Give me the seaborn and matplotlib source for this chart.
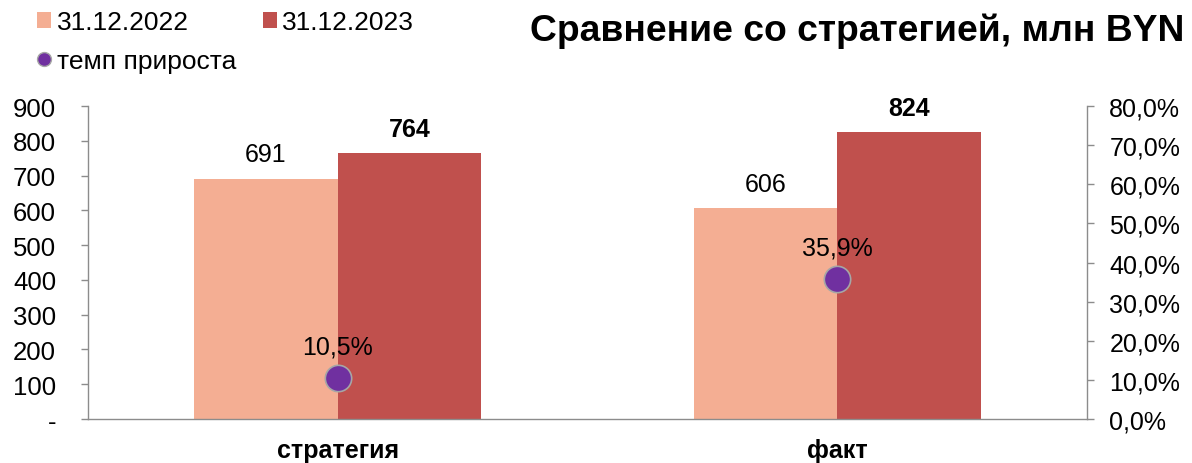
import numpy as np
import pandas as pd
import matplotlib
matplotlib.use('Agg')
import matplotlib.pyplot as plt
from matplotlib.ticker import FuncFormatter, FixedLocator
from matplotlib.lines import Line2D
from matplotlib.patches import Patch
import seaborn as sns

# --- данные ---
categories = ['стратегия', 'факт']
series_names = ['31.12.2022', '31.12.2023']
values_2022 = [691, 606]
values_2023 = [764, 824]
growth = [0.105, 0.359]
growth_name = 'темп прироста'
title = 'Сравнение со стратегией, млн BYN'

colors = ['#F4AE93', '#C0504D']
growth_color = '#7030A0'
axis_gray = '#8C8C8C'

sns.set_theme(style='white')
plt.rcParams['font.family'] = ['Liberation Sans', 'DejaVu Sans']
plt.rcParams['text.color'] = 'black'
plt.rcParams['xtick.labelcolor'] = 'black'
plt.rcParams['ytick.labelcolor'] = 'black'

df = pd.DataFrame({
    'Категория': categories * 2,
    'Дата': [series_names[0]] * len(categories) + [series_names[1]] * len(categories),
    'Значение': values_2022 + values_2023,
})

fig = plt.figure(figsize=(11.92, 4.64), dpi=100)
ax = fig.add_axes([0.0738, 0.0948, 0.8382, 0.6745])

sns.barplot(data=df, x='Категория', y='Значение', hue='Дата', order=categories,
            hue_order=series_names, palette=colors, width=0.575, saturation=1,
            linewidth=0, legend=False, ax=ax)

# подписи значений
for i, cont in enumerate(ax.containers):
    weight = 'bold' if i == 1 else 'normal'
    ax.bar_label(cont, labels=[f'{v:.0f}' for v in cont.datavalues], padding=9,
                 fontsize=18, fontweight=weight, color='black')

ax.set_xlim(-0.5, len(categories) - 0.5)
ax.set_ylim(0, 900)
ax.set_yticks(np.arange(0, 901, 100))
ax.yaxis.set_major_formatter(FuncFormatter(lambda v, p: '-' if v == 0 else f'{v:.0f}'))
ax.set_xlabel('')
ax.set_ylabel('')
ax.set_xticks(range(len(categories)))
ax.set_xticklabels(categories, fontsize=18, fontweight='bold')
ax.xaxis.set_minor_locator(FixedLocator(np.arange(-0.5, len(categories), 1.0)))
ax.tick_params(axis='x', which='major', length=0, pad=14, labelcolor='black')
ax.tick_params(axis='x', which='minor', length=5, width=1, color=axis_gray, direction='out')
ax.tick_params(axis='y', which='major', length=5, width=1, color=axis_gray,
               direction='out', left=True, labelsize=18.5, pad=18, labelcolor='black')

# вторичная ось: темп прироста
ax2 = ax.twinx()
sns.scatterplot(x=np.arange(len(categories)), y=growth, s=360, color=growth_color,
                edgecolor='#A6A6A6', linewidth=1.2, zorder=5, legend=False, ax=ax2)
for xi, g in zip(np.arange(len(categories)), growth):
    ax2.annotate(f'{g * 100:.1f}%'.replace('.', ','), (xi, g), xytext=(0, 14),
                 textcoords='offset points', ha='center', va='bottom', fontsize=18,
                 color='black')
ax2.set_ylim(0, 0.8)
ax2.set_yticks(np.arange(0, 0.81, 0.1))
ax2.yaxis.set_major_formatter(FuncFormatter(lambda v, p: f'{v * 100:.1f}%'.replace('.', ',')))
ax2.tick_params(axis='y', which='major', length=5, width=1, color=axis_gray,
                direction='out', right=True, labelsize=18, pad=11, labelcolor='black')
ax2.set_ylabel('')

for a in (ax, ax2):
    a.spines['top'].set_visible(False)
    for side in ('left', 'right', 'bottom'):
        a.spines[side].set_color(axis_gray)
        a.spines[side].set_linewidth(1)
ax.spines['right'].set_visible(False)
ax2.spines['left'].set_visible(False)
ax2.spines['bottom'].set_visible(False)

# легенда
handles = [
    Patch(facecolor=colors[0], edgecolor='none', label=series_names[0]),
    Line2D([0], [0], marker='o', linestyle='none', markersize=10,
           markerfacecolor=growth_color, markeredgecolor='#A6A6A6', label=growth_name),
    Patch(facecolor=colors[1], edgecolor='none', label=series_names[1]),
]
fig.legend(handles=handles, ncol=2, loc='upper left', bbox_to_anchor=(0.031, 0.976),
           frameon=False, fontsize=19, borderpad=0, borderaxespad=0,
           handlelength=0.55, handleheight=0.55, handletextpad=0.2,
           columnspacing=1.0, labelspacing=0.55, labelcolor='black')

fig.text(0.994, 0.9116, title, ha='right', va='baseline', fontsize=26.8,
         fontweight='bold', color='black')

fig.savefig('out.png', dpi=100)
